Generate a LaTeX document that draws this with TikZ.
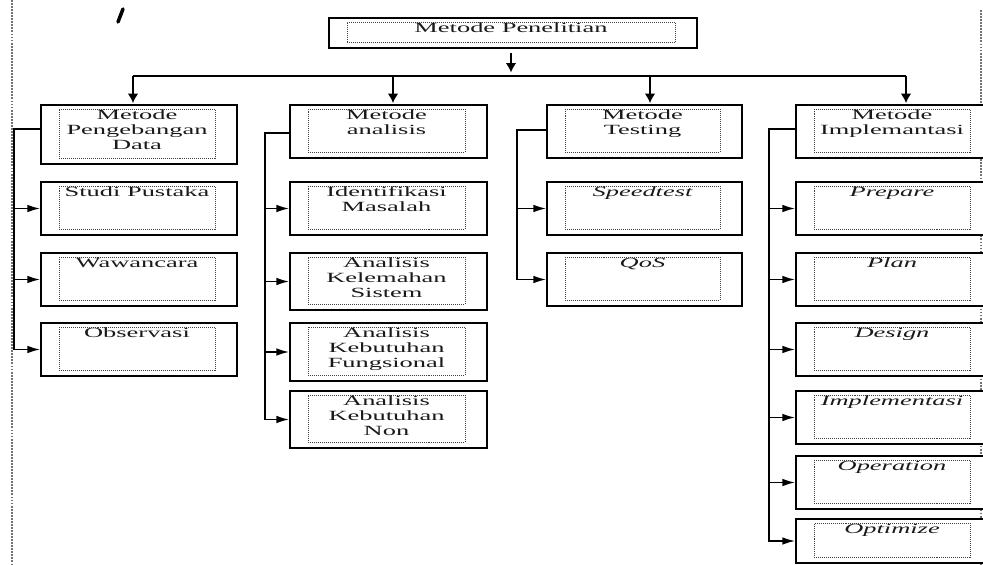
\documentclass[tikz,border=0pt]{standalone}
\usepackage{fontspec}
\setmainfont[FakeStretch=1.88]{Liberation Serif}
\usetikzlibrary{arrows.meta,fit}
\tikzset{
  outerbox/.style={draw, line width=1.3pt, inner sep=0pt, rectangle, fill=white},
  innerbox/.style={draw=black!75, densely dotted, line width=0.7pt, inner sep=0pt, rectangle},
  lbl/.style={anchor=north, align=center, inner sep=1pt, text=black!90, font=\fontsize{12}{12.8}\selectfont},
  conn/.style={line width=1.4pt},
  arr/.style={conn, -{Latex[length=11pt,width=6.5pt]}},
  darr/.style={conn, -{Latex[length=8pt,width=9pt]}},
  pageline/.style={densely dotted, line width=1.6pt, black!55}
}
\newcommand\bx[6]{%
  \node[outerbox, fit={(#2,#3) (#4,#5)}] (#1) {};
  \node[innerbox, fit={({#2+18},{#3+4}) ({#4-22},{#5-6})}] (#1i) {};
  \node[lbl] (#1t) at (#1i.north) {#6};}
\begin{document}
\begin{tikzpicture}[x=0.03cm,y=-0.03cm]
\useasboundingbox (0,0) rectangle (983,565);
\clip (0,0) rectangle (983,565);
% page border lines of the scan
\draw[pageline] (12,0) -- (12,565);
\draw[pageline] (981,10) -- (981,565);
% stray mark
\draw[line width=3pt, line cap=round] (118,22) -- (123,9);

% top
\bx{top}{329}{18}{697}{48}{Metode Penelitian}
% level 1
\bx{p1}{41}{105}{237}{164}{Metode\\Pengebangan\\Data}
\bx{p2}{290}{105}{487}{158}{Metode\\analisis}
\bx{p3}{547}{105}{742}{158}{Metode\\Testing}
\bx{p4}{796}{105}{992}{158}{Metode\\Implemantasi}
% column 1
\bx{a1}{41}{182}{237}{235}{Studi Pustaka}
\bx{a2}{41}{253}{237}{306}{Wawancara}
\bx{a3}{41}{323}{237}{376}{Observasi}
% column 2
\bx{b1}{290}{182}{487}{235}{Identifikasi\\Masalah}
\bx{b2}{290}{253}{487}{310}{Analisis\\Kelemahan\\Sistem}
\bx{b3}{290}{323}{487}{381}{Analisis\\Kebutuhan\\Fungsional}
\bx{b4}{290}{391}{487}{448}{Analisis\\Kebutuhan\\Non}
% column 3
\bx{c1}{547}{182}{742}{235}{\itshape Speedtest}
\bx{c2}{547}{253}{742}{306}{\itshape QoS}
% column 4
\bx{d1}{796}{182}{992}{235}{\itshape Prepare}
\bx{d2}{796}{253}{992}{306}{\itshape Plan}
\bx{d3}{796}{323}{992}{376}{\itshape Design}
\bx{d4}{796}{391}{992}{444}{\itshape Implementasi}
\bx{d5}{796}{456}{992}{509}{\itshape Operation}
\bx{d6}{796}{519}{992}{563}{\itshape Optimize}

% top distribution
\coordinate (hub) at (511,76);
\coordinate (h1) at (133,76);
\coordinate (h2) at (393,76);
\coordinate (h3) at (650,76);
\coordinate (h4) at (906,76);
\draw[darr, shorten <=4pt, shorten >=3pt] (hub |- top.south) -- (hub);
\draw[conn] (h1) -- (h4);
\draw[darr, shorten >=1pt] (h1) -- (h1 |- p1.north);
\draw[darr, shorten >=1pt] (h2) -- (h2 |- p2.north);
\draw[darr, shorten >=1pt] (h3) -- (h3 |- p3.north);
\draw[darr, shorten >=1pt] (h4) -- (h4 |- p4.north);

% tree 1
\coordinate (t1) at (14,129);
\draw[arr] (p1.west |- t1) -- (t1) |- (a3.west);
\draw[arr] (t1 |- a1.west) -- (a1.west);
\draw[arr] (t1 |- a2.west) -- (a2.west);
% tree 2
\coordinate (t2) at (265,133);
\draw[arr] (p2.west |- t2) -- (t2) |- (b4.west);
\draw[arr] (t2 |- b1.west) -- (b1.west);
\draw[arr] (t2 |- b2.west) -- (b2.west);
\draw[arr] (t2 |- b3.west) -- (b3.west);
% tree 3
\coordinate (t3) at (517,130);
\draw[arr] (p3.west |- t3) -- (t3) |- (c2.west);
\draw[arr] (t3 |- c1.west) -- (c1.west);
% tree 4
\coordinate (t4) at (769,129);
\draw[arr] (p4.west |- t4) -- (t4) |- (d6.west);
\draw[arr] (t4 |- d1.west) -- (d1.west);
\draw[arr] (t4 |- d2.west) -- (d2.west);
\draw[arr] (t4 |- d3.west) -- (d3.west);
\draw[arr] (t4 |- d4.west) -- (d4.west);
\draw[arr] (t4 |- d5.west) -- (d5.west);
\end{tikzpicture}
\end{document}
